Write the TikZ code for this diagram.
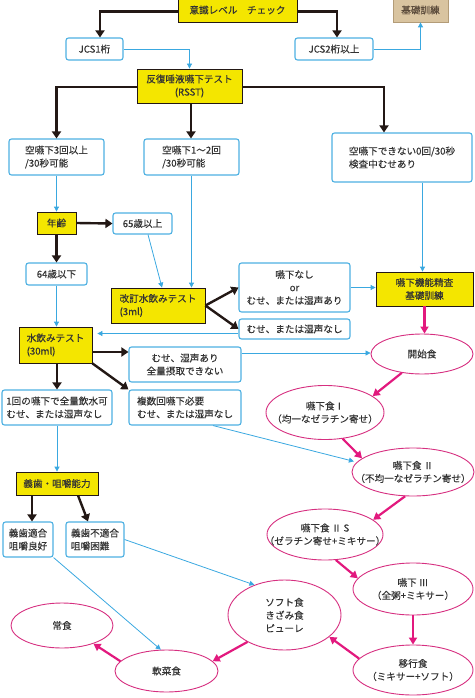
\documentclass[tikz,border=0pt]{standalone}
\usepackage{fontspec}
\setmainfont{Noto Sans CJK JP}[FakeBold=0.3]
\usetikzlibrary{arrows.meta,shapes.geometric}
\definecolor{yellowc}{HTML}{F4E600}
\definecolor{bluec}{HTML}{3AA8E0}
\definecolor{bluebox}{HTML}{4DB0E2}
\definecolor{pinkc}{HTML}{E2197E}
\definecolor{pinkb}{HTML}{D62F80}
\definecolor{blackc}{HTML}{231815}
\definecolor{tanfill}{HTML}{D9C4A0}
\definecolor{tandraw}{HTML}{B39C78}
\definecolor{tantext}{HTML}{5A4A3A}
\definecolor{txt}{HTML}{333333}
\tikzset{
  every node/.style={font=\fontsize{9.6}{13}\selectfont, text=txt, inner sep=2pt},
  ybox/.style={draw=blackc, line width=0.8pt, fill=yellowc, rectangle},
  bbox/.style={draw=bluebox, line width=1.1pt, fill=white, rounded corners=2.5pt, rectangle},
  tbox/.style={draw=tandraw, line width=0.8pt, fill=tanfill, text=tantext, rectangle},
  pell/.style={ellipse, draw=pinkb, line width=0.9pt, inner sep=0pt},
  etext/.style={align=center, inner sep=0pt},
  blk/.style={draw=blackc, line width=2.4pt, -{Triangle[length=7pt,width=9pt]}},
  blu/.style={draw=bluec, line width=0.8pt, -{Triangle[length=5pt,width=5pt]}},
  pnk/.style={draw=pinkc, line width=2.2pt, -{Triangle[length=7pt,width=8pt]}},
}
\begin{document}
\begin{tikzpicture}[x=1pt,y=-1pt]
\useasboundingbox (0,0) rectangle (474,698);
% ---------- boxes ----------
\node[ybox, minimum width=119pt, minimum height=24pt] (ishiki) at (237.5,10) {意識レベル　チェック};
\node[tbox, minimum width=55pt, minimum height=24pt] (kiso) at (420.5,10) {基礎訓練};
\node[bbox, minimum width=57pt, minimum height=22pt] (jcs1) at (94.5,49) {JCS1桁};
\node[bbox, minimum width=78pt, minimum height=22pt] (jcs2) at (334,49) {JCS2桁以上};
\node[ybox, minimum width=105pt, minimum height=34pt, align=center] (rsst) at (189.5,86) {反復唾液嚥下テスト\\(RSST)};
\node[bbox, minimum width=95pt, minimum height=36pt, align=left] (s3) at (56.5,157) {空嚥下3回以上\\/30秒可能};
\node[bbox, minimum width=95pt, minimum height=36pt, align=left] (s12) at (191.5,157) {空嚥下1～2回\\/30秒可能};
\node[bbox, minimum width=140pt, minimum height=49pt, align=left] (s0) at (402,157.5) {空嚥下できない0回/30秒\\検査中むせあり};
\node[ybox, minimum width=39pt, minimum height=22pt] (age) at (56.5,223) {年齢};
\node[bbox, minimum width=59pt, minimum height=21pt] (a65) at (142.5,223.5) {65歳以上};
\node[bbox, minimum width=61pt, minimum height=22pt] (a64) at (56.5,274) {64歳以下};
\node[ybox, minimum width=94pt, minimum height=35pt, align=left] (kaitei) at (158,305.5) {改訂水飲みテスト\\(3ml)};
\node[bbox, minimum width=111pt, minimum height=49pt, align=center] (nashi) at (294.5,287.5) {嚥下なし\\or\\むせ、または湿声あり};
\node[bbox, minimum width=111pt, minimum height=20pt] (munashi) at (294.5,329) {むせ、または湿声なし};
\node[ybox, minimum width=97pt, minimum height=34pt, align=center] (seisa) at (424.5,289) {嚥下機能精査\\基礎訓練};
\node[ybox, minimum width=73pt, minimum height=36pt, align=left] (mizu) at (55.5,345) {水飲みテスト\\(30ml)};
\node[bbox, minimum width=112pt, minimum height=35pt, align=center] (museari) at (185,364.5) {むせ、湿声あり\\全量摂取できない};
\node[bbox, minimum width=110pt, minimum height=35pt, align=left] (ikkai) at (57,407.5) {1回の嚥下で全量飲水可\\むせ、または湿声なし};
\node[bbox, minimum width=112pt, minimum height=35pt, align=left] (fukusu) at (185,407.5) {複数回嚥下必要\\むせ、または湿声なし};
\node[ybox, minimum width=82pt, minimum height=23pt] (gishi) at (57,483.5) {義歯・咀嚼能力};
\node[bbox, minimum width=50pt, minimum height=35pt, align=left] (tekigo) at (28,539.5) {義歯適合\\咀嚼良好};
\node[bbox, minimum width=58pt, minimum height=35pt, align=left] (futekigo) at (95,539.5) {義歯不適合\\咀嚼困難};
% ---------- ellipses ----------
\node[pell, minimum width=102pt, minimum height=40pt] (kaishi) at (422,354) {};
\node[etext] (kaishit) at (kaishi) {開始食};
\node[pell, minimum width=118pt, minimum height=54pt] (e1) at (325,412.5) {};
\node[etext] (e1t) at (e1) {嚥下食Ⅰ\\（均一なゼラチン寄せ）};
\node[pell, minimum width=122pt, minimum height=48pt] (e2) at (413,472) {};
\node[etext] (e2t) at (e2) {嚥下食 Ⅱ\\（不均一なゼラチン寄せ）};
\node[pell, minimum width=116pt, minimum height=51pt] (e2s) at (325,534.5) {};
\node[etext] (e2st) at (e2s) {嚥下食 Ⅱ S\\（ゼラチン寄せ+ミキサー）};
\node[pell, minimum width=120pt, minimum height=52pt] (e3) at (413,589) {};
\node[etext] (e3t) at (e3) {嚥下 Ⅲ\\（全粥+ミキサー）};
\node[pell, minimum width=113pt, minimum height=70pt] (soft) at (284.5,615) {};
\node[etext] (softt) at (soft) {ソフト食\\きざみ食\\ピューレ};
\node[pell, minimum width=102pt, minimum height=45pt] (joshoku) at (62,625.5) {};
\node[etext] (joshokut) at (joshoku) {常食};
\node[pell, minimum width=103pt, minimum height=42pt] (nansai) at (166.5,671) {};
\node[etext] (nansait) at (nansai) {軟菜食};
\node[pell, minimum width=120pt, minimum height=50pt] (iko) at (413,670) {};
\node[etext] (ikot) at (iko) {移行食\\（ミキサー+ソフト）};
% ---------- black connectors ----------
\draw[blk] ([yshift=-1.5pt]ishiki.west) -| ([xshift=5.5pt]jcs1.north);
\draw[blk] ([yshift=-1.5pt]ishiki.east) -| ([xshift=3pt]jcs2.north);
\draw[blk] ([yshift=-1pt]rsst.west) -| (s3.north);
\draw[blk] ([xshift=1.5pt]rsst.south) -- ([xshift=1.5pt]rsst.south |- s12.north);
\draw[blk] ([yshift=-1pt]rsst.east) -| ([xshift=-18pt]s0.north);
\draw[blk] (age.east) -- (a65.west);
\draw[blk] (age.south) -- (a64.north);
\draw[blk] (kaitei.east) -- (nashi.west);
\draw[blk] (kaitei.east) -- (munashi.west);
\draw[blk] ([yshift=-7pt]mizu.east) -- ([yshift=-7pt]mizu.east -| museari.west);
\draw[blk] ([xshift=1.5pt]mizu.south) -- ([xshift=1.5pt]mizu.south |- ikkai.north);
\draw[blk] (mizu.south east) -- (fukusu.north west);
\draw[blk] ([xshift=4pt]tekigo.north |- gishi.south) -- ([xshift=4pt]tekigo.north);
\draw[blk] ([xshift=21pt]gishi.south) -- ([xshift=-7pt]futekigo.north);
% ---------- blue connectors ----------
\draw[blu] (jcs1.east) -| (rsst.north);
\draw[blu] (jcs2.east) -| (kiso.south);
\draw[blu] (s3.south) -- (age.north);
\draw[blu] ([xshift=5.5pt]a65.south) -- ([xshift=4pt]kaitei.north);
\draw[blu] (s12.south) -- (s12.south |- kaitei.north);
\draw[blu] ([xshift=-2pt]seisa.north |- s0.south) -- ([xshift=-2pt]seisa.north);
\draw[blu] (nashi.east) -- (nashi.east -| seisa.west);
\draw[blu] (a64.south) -- (a64.south |- mizu.north);
\coordinate (mw) at ([yshift=-4.5pt]munashi.west);
\draw[blu, shorten >=5pt] (mw) -- (mw -| mizu.east);
\draw[blu] (museari.east |- 0,353) -- (kaishi.west |- 0,353);
\draw[blu] (ikkai.south) -- (ikkai.south |- gishi.north);
\draw[blu, shorten >=3pt] ([xshift=28pt]fukusu.south) -- (e2.170);
\draw[blu] (futekigo.east) -- (soft.135);
\draw[blu] (tekigo.south east) -- (nansai.105);
% ---------- pink connectors ----------
\draw[pnk] (seisa.south) -- (seisa.south |- kaishi.north);
\draw[pnk] (kaishi.223) -- (e1.19);
\draw[pnk] (e1.304) -- (e2.165);
\draw[pnk] (e2.252) -- (e2s.17);
\draw[pnk] (e2s.293) -- (e3.169);
\draw[pnk] (e3.south) -- (iko.north);
\draw[pnk] (iko.168) -- (soft.334);
\draw[pnk] (soft.216) -- (nansai.12);
\draw[pnk] (nansai.168) -- (joshoku.330);
\end{tikzpicture}
\end{document}
